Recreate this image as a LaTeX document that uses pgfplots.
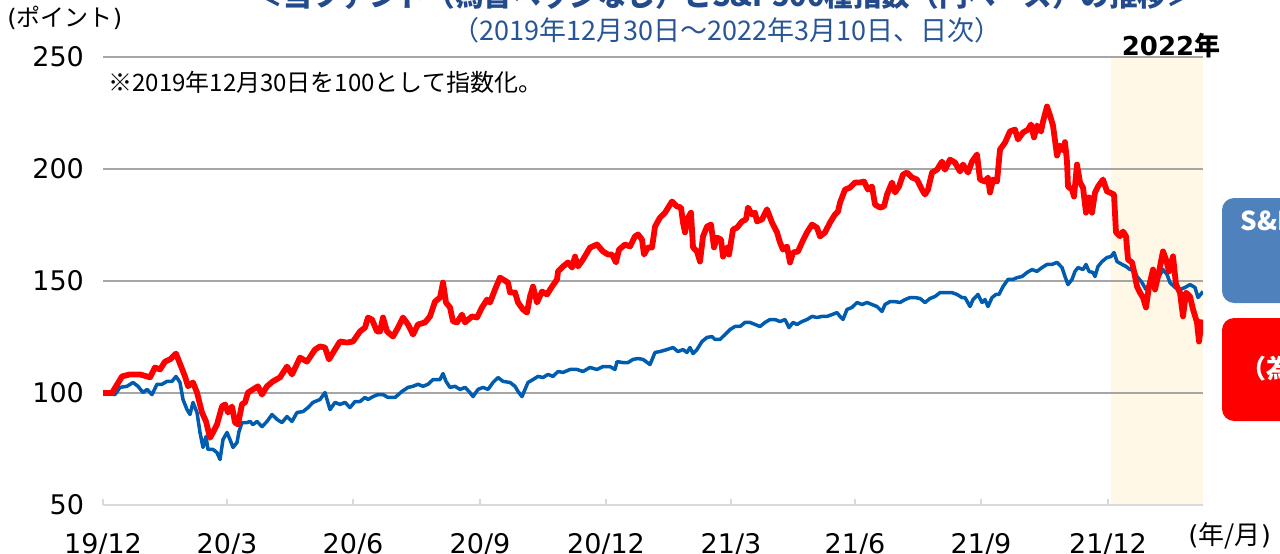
\documentclass[border=0pt]{standalone}
\usepackage{fontspec}
\usepackage{pgfplots}
\pgfplotsset{compat=1.18}
\setmainfont{DejaVu Sans}
\newfontfamily\jp{Noto Sans CJK JP}
\definecolor{fundred}{RGB}{255,0,0}
\definecolor{spblue}{RGB}{0,92,175}
\definecolor{gridgray}{RGB}{166,166,166}
\definecolor{axisgray}{RGB}{217,217,217}
\definecolor{cream}{RGB}{255,248,231}
\definecolor{boxblue}{RGB}{79,129,189}
\definecolor{titleblue}{RGB}{35,75,140}
\definecolor{subblue}{RGB}{40,85,150}
\begin{document}
\begin{tikzpicture}
\begin{axis}[
  set layers,
  scale only axis,
  width=550pt, height=224pt,
  at={(51.5pt,24pt)}, anchor=south west,
  xmin=103, xmax=1203, ymin=50, ymax=250,
  axis x line*=bottom, axis y line*=left,
  x axis line style={draw=axisgray, line width=1.2pt, -},
  y axis line style={draw=none},
  xtick={103,227,353,480,606,731,855,981,1108},
  xticklabels={19/12,20/3,20/6,20/9,20/12,21/3,21/6,21/9,21/12},
  ytick={50,100,150,200,250},
  ymajorgrids,
  grid style={gridgray, line width=1pt},
  xtick style={draw=axisgray, line width=0.8pt},
  ytick style={draw=none},
  tick align=inside,
  major tick length=3pt,
  /pgf/number format/assume math mode=true,
  ticklabel style={font=\fontsize{13.5}{16}\selectfont, text=black},
  xticklabel style={yshift=-10.5pt},
  yticklabel style={xshift=-6pt},
  clip=true,
]
\addplot[draw=none, fill=cream, on layer=axis background, forget plot]
  coordinates {(1111,50) (1111,250) (1203,250) (1203,50)};
% S&P500 (yen basis)
\addplot[spblue, line width=1.75pt, line join=round] coordinates {
(103,100) (115,99.3) (120,102.5) (127,103) (133,104.7) (138,103) (143,100.2) (147,101.6) (152,99.3) (157,103.9)
(162,103.9) (167,105.2) (172,105.2) (176,107.4) (180,104.7) (183,97.1) (187,92.6) (190,90.4) (193,95.8) (197,91.3)
(200,82.4) (203,75.7) (206,80.6) (208,74.8) (213,74.8) (217,73.4) (220,70.3) (223,79.2) (227,82.4) (230,79.2)
(233,75.7) (237,77.9) (239,82.8) (242,86.8) (247,86.8) (250,87.3) (253,85.9) (257,87.3) (262,85) (267,87.3)
(272,90.4) (277,88.2) (282,86.8) (287,89.5) (292,87.3) (297,91.3) (303,91.7) (308,93.5) (313,95.8) (320,97.1)
(325,100.2) (330,92.6) (335,95.8) (340,94.9) (345,95.8) (350,93.5) (355,96.2) (360,96.2) (365,98) (368,97.1)
(373,98.4) (378,99.3) (383,99.3) (388,98) (395,98) (402,100.7) (408,102.5) (413,103) (418,103.9) (423,103)
(428,103.9) (433,106) (440,106) (443,108.7) (446,105.2) (450,102.5) (455,103) (460,101.6) (465,102.5) (470,100.2)
(473,98.4) (478,101.6) (483,102.5) (488,101.6) (493,104.7) (498,106.9) (503,105.2) (510,104.7) (515,103) (518,100.7)
(522,98.4) (525,101.6) (528,104.7) (533,106) (538,107.4) (543,106.9) (548,108.3) (553,107.4) (558,109.6) (563,109.2)
(570,110.5) (577,110.5) (583,109.6) (590,111.4) (597,110.5) (603,111.8) (610,111.8) (615,110.5) (617,114) (623,113.6)
(628,113.6) (633,115) (638,115.4) (643,115) (650,112.7) (655,118.1) (660,118.5) (667,119.4) (673,120.3) (678,118.5)
(683,119.4) (687,118.1) (690,120.3) (693,117.6) (697,119.4) (702,123) (707,124.8) (712,125.2) (715,123.9) (720,123.9)
(725,126.1) (730,128.3) (735,129.7) (740,129.7) (745,131.5) (750,131.5) (755,130.6) (760,129.7) (765,131.5) (770,132.8)
(775,132.8) (780,131.9) (785,132.8) (789,129.2) (793,131.5) (797,130.6) (802,131.9) (807,132.8) (812,134.2) (817,133.7)
(822,134.2) (827,134.2) (832,135) (837,135.9) (840,134.2) (843,132.8) (847,137.3) (852,138.2) (857,140.4) (862,139.5)
(867,140.4) (872,139.5) (877,138.6) (882,136.4) (885,139.5) (890,140.8) (895,140.8) (900,140.4) (905,141.7) (910,142.6)
(915,142.6) (920,142.2) (925,140.4) (930,142.2) (935,143.1) (940,144.8) (947,144.8) (952,144.8) (957,144) (962,142.6)
(965,142.6) (970,138.6) (973,141.7) (978,144) (982,140.4) (985,141.7) (988,138.6) (992,142.6) (996,144) (999,144)
(1003,147.5) (1008,150.7) (1013,150.7) (1017,151.5) (1022,152) (1027,153.8) (1032,155.1) (1037,154.3) (1042,156) (1047,157.4)
(1052,157.4) (1057,158.3) (1062,156) (1065,152) (1068,148.4) (1072,150.7) (1075,154.3) (1078,156) (1083,155.1) (1086,157.4)
(1089,154.3) (1093,153.8) (1095,152) (1098,156.5) (1102,158.7) (1107,160.5) (1111,160.9) (1114,162.7) (1117,158.7) (1122,157.4)
(1126,156.5) (1130,155.1) (1134,155.1) (1137,152) (1142,149.3) (1146,146.2) (1150,148.4) (1155,151.5) (1159,152) (1163,155.1)
(1167,152.9) (1170,149.3) (1175,147.1) (1180,146.2) (1185,147.1) (1190,148.4) (1195,147.1) (1198,142.6) (1203,145.3)
};
% Fund (unhedged)
\addplot[fundred, line width=2.9pt, line join=round] coordinates {
(103,100) (112,100) (122,107.4) (130,108.3) (140,108.3) (147,107.4) (150,107) (155,111.4) (160,110.5) (165,114)
(170,115) (176,117.6) (185,107.4) (188,103) (193,104.7) (197,100.2) (202,91.3) (206,87.3) (210,80) (213,82.4)
(217,86) (222,94) (225,94.9) (228,91.3) (232,94) (235,86.8) (238,86) (242,95) (245,95.8) (248,100.2)
(253,101.6) (258,103) (262,99.3) (267,103) (273,105.2) (280,107) (287,111.8) (292,108.3) (300,115.8) (307,114)
(315,119.4) (320,120.8) (325,120.3) (329,115) (335,119.4) (340,123) (347,122.5) (353,123) (360,127.5) (365,129.2)
(368,133.7) (372,132.8) (377,127.5) (380,127.5) (383,133.7) (387,127.5) (393,125.2) (398,129.2) (403,133.7) (408,130.6)
(413,126.1) (418,130.6) (425,131.5) (430,134.2) (435,140.8) (440,142.6) (443,149.3) (446,140.4) (450,138.2) (453,132)
(457,131.5) (462,135) (465,131.5) (472,134.2) (477,133.7) (482,138.2) (487,141.7) (490,140.4) (495,146.2) (500,151.5)
(503,150.7) (508,149.3) (510,144.9) (515,144.9) (518,140.4) (523,137.3) (527,135.9) (530,143.1) (533,147.5) (537,140.4)
(542,145.3) (547,144) (552,147.5) (557,150.7) (558,154.3) (563,156.5) (568,158.3) (572,156) (575,160.9) (578,156.5)
(583,159.6) (590,164.9) (597,166.3) (603,163.2) (608,161.8) (612,161.8) (616,158.3) (619,164) (625,166.3) (630,165.4)
(635,169.9) (638,170.8) (642,168.5) (644,161.8) (648,165) (652,165) (655,174.3) (660,178.3) (665,180.5) (672,185.5)
(677,183.3) (681,182.8) (683,176.1) (685,171.7) (688,178.3) (691,180.5) (693,165) (697,163.2) (700,158.7) (703,169.9)
(707,174.3) (711,175.2) (714,165) (717,169.4) (721,168.5) (723,160.9) (727,165) (729,161.8) (733,173) (737,173.8)
(742,176.6) (746,177.5) (748,182.8) (752,179.7) (755,180.5) (757,176.6) (762,177.5) (767,182) (772,176.1) (777,171.7)
(780,167.2) (783,164) (787,165.4) (790,158.3) (793,162.7) (798,163.2) (802,167.2) (807,171.7) (812,175.2) (817,173.8)
(820,169.9) (825,171.7) (830,176.1) (835,179.7) (838,181) (840,185) (845,190.8) (850,191.7) (855,194) (860,194)
(864,194.4) (868,190.8) (872,192.2) (875,184.1) (880,182.8) (884,183.3) (887,188.6) (892,194) (895,189.5) (899,192.2)
(903,197.5) (907,198.4) (912,196.2) (917,195.3) (922,190.8) (925,188.6) (928,190.8) (932,198.4) (937,199.7) (942,203.3)
(945,199.7) (950,204.2) (955,202.9) (960,198.9) (963,202) (968,198.4) (972,203.3) (977,206.5) (980,195.3) (985,194.4)
(988,196.2) (990,189.5) (993,195.3) (997,194.4) (1000,208.7) (1005,211.8) (1010,216.8) (1015,217.6) (1018,213.2) (1023,216.3)
(1028,217.6) (1031,219.9) (1034,214.1) (1037,219.4) (1041,216.7) (1043,221.2) (1047,227.9) (1050,223.9) (1053,219.4) (1057,206)
(1060,210.5) (1063,208.3) (1065,212) (1067,203.3) (1068,192.2) (1072,190.8) (1074,187.7) (1077,202) (1080,194) (1083,191.7)
(1086,180.5) (1089,187.3) (1092,180.5) (1095,189.5) (1098,192.2) (1103,195.3) (1107,190) (1110,189.5) (1114,188.6) (1116,171.7)
(1120,170) (1123,172.1) (1126,170) (1128,159.6) (1132,158.3) (1134,154.3) (1137,147.5) (1140,144.8) (1143,142.6) (1146,138.2)
(1149,147.5) (1153,155.1) (1155,146.2) (1158,152) (1163,163.2) (1166,159.6) (1169,154.3) (1173,161) (1176,148.4) (1180,144.8)
(1183,134.2) (1186,144.8) (1190,143.1) (1193,137.3) (1197,131.5) (1199,123) (1202,132.8)
};
\end{axis}
% texts
\node[anchor=base, text=titleblue, font=\jp\bfseries\fontsize{14.3}{17}\selectfont] at (362.5pt,273.2pt)
  {＜当ファンド（為替ヘッジなし）とS\&P500種指数（円ベース）の推移＞};
\node[text=subblue, font=\jp\fontsize{13.5}{16}\selectfont] at (363.5pt,261.5pt)
  {（2019年12月30日～2022年3月10日、日次）};
\node[anchor=west, inner sep=0pt, font=\fontsize{12}{14}\selectfont] at (3.5pt,267.5pt) {(\jp ポイント\rmfamily)};
\node[anchor=west, inner sep=0pt, font=\jp\fontsize{12}{14}\selectfont] at (54pt,235.5pt)
  {※2019年12月30日を100として指数化。};
\node[font=\bfseries\fontsize{13}{15}\selectfont] at (585.5pt,253.5pt) {2022{\jp\bfseries 年}};
\node[anchor=west, inner sep=0pt, font=\fontsize{13}{15}\selectfont] at (594pt,8.5pt) {(\jp 年/月\rmfamily)};
% legend boxes (partly outside the picture)
\fill[boxblue, rounded corners=6pt] (611pt,125pt) rectangle (700pt,177.5pt);
\fill[fundred, rounded corners=6pt] (611pt,66pt) rectangle (700pt,117.5pt);
\node[anchor=west, inner sep=0pt, text=white, font=\jp\bfseries\fontsize{13}{15}\selectfont] at (620pt,166pt) {S\&P500種指数};
\node[anchor=west, inner sep=0pt, text=white, font=\jp\bfseries\fontsize{13}{15}\selectfont] at (637pt,151.5pt) {（円ベース）};
\node[anchor=west, inner sep=0pt, text=white, font=\jp\bfseries\fontsize{13}{15}\selectfont] at (646pt,106.5pt) {当ファンド};
\node[anchor=west, inner sep=0pt, text=white, font=\jp\bfseries\fontsize{13}{15}\selectfont] at (620pt,92pt) {（為替ヘッジなし）};
\pgfresetboundingbox
\useasboundingbox (0,0) rectangle (640pt,276.5pt);
\end{tikzpicture}
\end{document}
